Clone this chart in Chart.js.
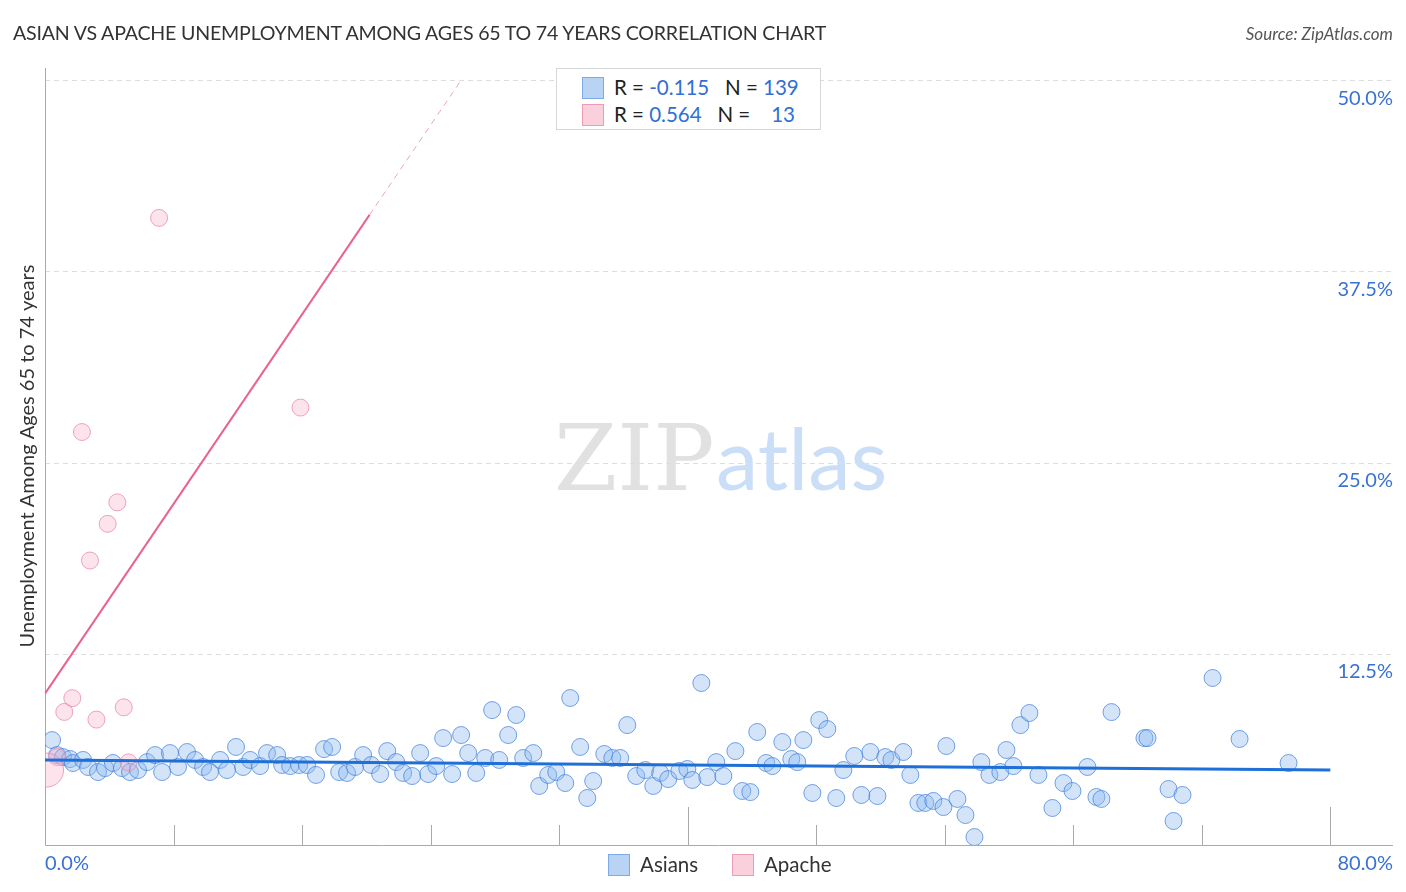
<!DOCTYPE html>
<html>
<head>
<meta charset="utf-8">
<script src="https://cdn.jsdelivr.net/npm/chart.js@4.4.1/dist/chart.umd.min.js"></script>
<style>
  body { margin: 0; background: #fff; font-family: Lato, "Open Sans", sans-serif; }
  #wrap { position: relative; width: 1406px; height: 892px; overflow: hidden; }
  #chart { position: absolute; left: 0; top: 0; }
  .title { position: absolute; left: 13px; top: 21px; font-size: 19.6px; color: #333; letter-spacing: -0.2px; }
  .source { position: absolute; right: 13px; top: 23px; font-size: 17px; color: #555; font-style: italic; }
  .statbox { position: absolute; left: 556px; top: 68px; width: 263px; height: 60px; border: 1px solid #d6d6d6; background: #fff; font-size: 20.5px; color: #222; }
  .row { position: absolute; left: 25px; height: 24px; line-height: 24px; white-space: pre; }
  .sq { display: inline-block; width: 20px; height: 20px; vertical-align: -4px; margin-right: 10px; border: 1px solid; }
  .blue { color: #2f6fd6; }
  .legend { position: absolute; top: 852px; font-size: 20.5px; color: #333; line-height: 24px; }
</style>
</head>
<body>
<div id="wrap">
  <canvas id="chart" width="1406" height="892"></canvas>
  <div class="title">ASIAN VS APACHE UNEMPLOYMENT AMONG AGES 65 TO 74 YEARS CORRELATION CHART</div>
  <div class="source">Source: ZipAtlas.com</div>
  <div class="statbox">
    <div class="row" style="top:6px"><span class="sq" style="background:#b9d3f5;border-color:#7eaae8"></span>R = <span class="blue">-0.115</span>   N = <span class="blue">139</span></div>
    <div class="row" style="top:33px"><span class="sq" style="background:#fbd0dd;border-color:#ee9cb6"></span>R = <span class="blue">0.564</span>   N =    <span class="blue">13</span></div>
  </div>
  <div class="legend" style="left:608px"><span class="sq" style="background:#b9d3f5;border-color:#7eaae8"></span>Asians</div>
  <div class="legend" style="left:732px"><span class="sq" style="background:#fbd0dd;border-color:#ee9cb6"></span>Apache</div>
</div>
<script>
// Asians (x = share %, y = unemployment %)
const asianX = [0.44, 0.75, 1.12, 1.56, 1.74, 2.37, 2.68, 3.30, 3.74, 4.23, 4.79, 5.29, 5.79, 6.35, 6.85, 7.29, 7.78, 8.28, 8.84, 9.34,
  9.84, 10.27, 10.90, 11.33, 11.89, 12.33, 12.77, 13.39, 13.82, 14.45, 14.76, 15.26, 15.82, 16.31,
  16.87, 17.37, 17.87, 18.31, 18.80, 19.30, 19.80, 20.30, 20.86, 21.30, 21.86, 22.29, 22.85, 23.35, 23.85, 24.35,
  24.78, 25.34, 25.90, 26.34, 26.84, 27.40, 27.83, 28.27, 28.83, 29.33, 29.76, 30.39, 30.76, 31.32, 31.82, 32.38, 32.69,
  33.31, 33.75, 34.12, 34.81, 35.31, 35.80, 36.24, 36.80, 37.36, 37.86, 38.29, 38.79, 39.48, 39.98, 40.29, 40.85,
  41.22, 41.78, 42.22, 42.97, 43.40, 43.90, 44.33, 44.89, 45.27, 45.89, 46.45, 46.82, 47.20, 47.76, 48.19, 48.69,
  49.25, 49.69, 50.37, 50.81, 51.37, 51.81, 52.30, 52.68, 53.42, 53.86, 54.36, 54.79, 55.29, 55.92, 56.10, 56.79,
  57.29, 57.85, 58.28, 58.78, 59.46, 59.84, 60.27, 60.71, 61.27, 61.83, 62.70, 63.39, 63.95, 64.88,
  65.44, 65.75, 66.38, 68.43, 68.62, 69.93, 70.80, 70.24, 72.67, 74.35, 77.40];
const asianY = [6.86, 5.88, 5.75, 5.62, 5.36, 5.56, 5.10, 4.77, 5.03, 5.36, 5.03, 4.77, 4.90, 5.42, 5.88, 4.77, 6.01, 5.10, 6.08, 5.56,
  5.10, 4.77, 5.56, 4.90, 6.41, 5.10, 5.56, 5.16, 6.01, 5.88, 5.23, 5.16, 5.23, 5.23,
  4.58, 6.27, 6.41, 4.77, 4.71, 5.10, 5.88, 5.23, 4.64, 6.14, 5.42, 4.71, 4.51, 6.01, 4.64, 5.16,
  6.99, 4.64, 7.19, 6.01, 4.71, 5.69, 8.82, 5.56, 7.19, 8.50, 5.69, 6.01, 3.86, 4.58, 4.77, 4.05, 9.61,
  6.41, 3.07, 4.18, 5.95, 5.69, 5.69, 7.84, 4.51, 4.90, 3.86, 4.71, 4.31, 4.84, 4.97, 4.25, 10.59,
  4.44, 5.42, 4.51, 6.14, 3.53, 3.46, 7.39, 5.36, 5.16, 6.73, 5.62, 5.42, 6.86, 3.40, 8.17, 7.58,
  3.07, 4.90, 5.82, 3.27, 6.08, 3.20, 5.75, 5.56, 6.08, 4.58, 2.75, 2.75, 2.88, 2.48, 6.47, 3.01,
  1.96, 0.52, 5.42, 4.58, 4.77, 6.21, 5.16, 7.84, 8.63, 4.58, 2.42, 4.05, 3.53, 5.10,
  3.14, 3.01, 8.69, 6.99, 6.99, 3.66, 3.27, 1.57, 10.92, 6.93, 5.36];

// Apache
const apacheX = [7.1, 15.9, 2.3, 4.5, 3.9, 2.8, 1.7, 1.2, 3.2, 4.9, 0.75, 5.2, 0.1];
const apacheY = [41.0, 28.6, 27.0, 22.4, 21.0, 18.6, 9.6, 8.7, 8.2, 9.0, 5.75, 5.4, 4.9];

// trend lines
const asianTrendX = [0, 80];
const asianTrendY = [5.56, 4.9];
const apacheTrendX = [0, 20.2];
const apacheTrendY = [9.9, 41.2];
const apacheDashX = [20.2, 25.9];
const apacheDashY = [41.2, 50];

// axes
const xTicks = [0, 8, 16, 24, 32, 40, 48, 56, 64, 72, 80];
const xLabels = ['0.0%', '80.0%'];
const yTicks = [12.5, 25, 37.5, 50];
const yLabels = ['12.5%', '25.0%', '37.5%', '50.0%'];

const pts = (xs, ys) => xs.map((x, i) => ({ x: x, y: ys[i] }));

const decor = {
  id: 'decor',
  beforeDatasetsDraw(chart) {
    const { ctx, chartArea: a, scales: { x, y } } = chart;
    ctx.save();
    // watermark
    ctx.textBaseline = 'alphabetic';
    ctx.font = '91px "DejaVu Serif", "Liberation Serif", serif';
    ctx.fillStyle = 'rgba(200,200,200,0.55)';
    ctx.fillText('ZIP', 554, 490);
    ctx.font = '85px Lato, "Open Sans", sans-serif';
    ctx.fillStyle = 'rgba(160,195,240,0.55)';
    ctx.fillText('atlas', 716, 490);
    // grid
    ctx.strokeStyle = '#dddddd';
    ctx.lineWidth = 1;
    ctx.setLineDash([5, 4]);
    yTicks.forEach(v => {
      const py = Math.round(y.getPixelForValue(v)) + 0.5;
      ctx.beginPath(); ctx.moveTo(a.left, py); ctx.lineTo(a.right, py); ctx.stroke();
    });
    ctx.setLineDash([]);
    // axes
    ctx.strokeStyle = '#aaaaaa';
    ctx.beginPath();
    ctx.moveTo(a.left + 0.5, a.top); ctx.lineTo(a.left + 0.5, a.bottom + 0.5);
    ctx.lineTo(a.right, a.bottom + 0.5);
    ctx.stroke();
    xTicks.forEach(v => {
      if (v === 0) return;
      const px = Math.round(x.getPixelForValue(v)) + 0.5;
      const len = v % 40 === 0 ? 38 : 20;
      ctx.beginPath(); ctx.moveTo(px, a.bottom); ctx.lineTo(px, a.bottom - len); ctx.stroke();
    });
    ctx.restore();
  },
  afterDraw(chart) {
    const { ctx, chartArea: a, scales: { x, y } } = chart;
    ctx.save();
    ctx.font = '20px Lato, "Open Sans", sans-serif';
    ctx.fillStyle = '#3a72d4';
    ctx.textBaseline = 'middle';
    ctx.textAlign = 'right';
    yTicks.forEach((v, i) => {
      ctx.fillText(yLabels[i], a.right, y.getPixelForValue(v) + 18);
    });
    ctx.textAlign = 'left';
    ctx.fillText(xLabels[0], x.getPixelForValue(0), a.bottom + 19);
    ctx.textAlign = 'right';
    ctx.fillText(xLabels[1], a.right, a.bottom + 19);
    // y axis title
    ctx.translate(28, 456);
    ctx.rotate(-Math.PI / 2);
    ctx.textAlign = 'center';
    ctx.fillStyle = '#333';
    ctx.font = '20px Lato, "Open Sans", sans-serif';
    ctx.fillText('Unemployment Among Ages 65 to 74 years', 0, 0);
    ctx.restore();
  }
};

new Chart(document.getElementById('chart'), {
  type: 'scatter',
  data: {
    datasets: [
      {
        label: 'Asians trend',
        data: pts(asianTrendX, asianTrendY),
        showLine: true,
        borderColor: '#1f6fd8',
        borderWidth: 3,
        pointRadius: 0,
        order: 0
      },
      {
        label: 'Apache trend',
        data: pts(apacheTrendX, apacheTrendY),
        showLine: true,
        borderColor: '#e8638f',
        borderWidth: 2,
        pointRadius: 0,
        order: 0
      },
      {
        label: 'Apache trend ext',
        data: pts(apacheDashX, apacheDashY),
        showLine: true,
        borderColor: 'rgba(232,99,143,0.6)',
        borderWidth: 1,
        borderDash: [6, 5],
        pointRadius: 0,
        order: 0
      },
      {
        label: 'Apache',
        data: pts(apacheX, apacheY),
        backgroundColor: 'rgba(246,176,200,0.35)',
        borderColor: 'rgba(232,135,168,0.75)',
        borderWidth: 1,
        pointRadius: ctx => ctx.dataIndex === apacheX.length - 1 ? 17 : 8.5,
        order: 1
      },
      {
        label: 'Asians',
        data: pts(asianX, asianY),
        backgroundColor: 'rgba(140,184,240,0.38)',
        borderColor: 'rgba(60,125,220,0.7)',
        borderWidth: 1,
        pointRadius: 8.5,
        order: 2
      }
    ]
  },
  options: {
    responsive: false,
    animation: false,
    layout: { autoPadding: false, padding: { left: 45, right: 13, top: 68, bottom: 47 } },
    plugins: { legend: { display: false }, tooltip: { enabled: false } },
    scales: {
      x: { type: 'linear', min: 0, max: 83.9, display: false },
      y: { type: 'linear', min: 0, max: 50.8, display: false }
    }
  },
  plugins: [decor]
});
</script>
</body>
</html>
